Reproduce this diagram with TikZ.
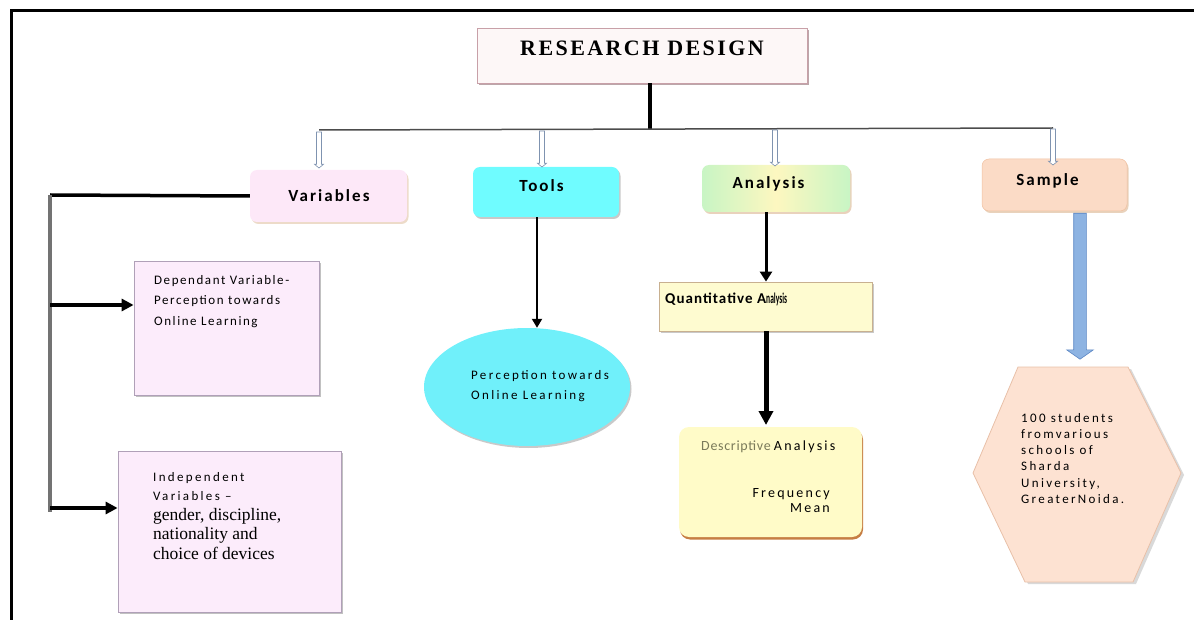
\documentclass[tikz,border=0pt]{standalone}
\usepackage{fontspec}
\usepackage{graphicx}
\setmainfont{Liberation Serif}
\setsansfont{Carlito}
\usetikzlibrary{shapes.arrows,shapes.geometric,shadows,arrows.meta}
\newcommand\lsp[1]{\addfontfeatures{LetterSpace=#1}}
\definecolor{rdfill}{HTML}{FDF7F7}
\definecolor{rdline}{HTML}{C8A0A8}
\definecolor{varfill}{HTML}{FDE8F8}
\definecolor{toolfill}{HTML}{6FFCFF}
\definecolor{samfill}{HTML}{FBDBC6}
\definecolor{samline}{HTML}{F0C0A0}
\definecolor{boxfill}{HTML}{FCECFB}
\definecolor{boxline}{HTML}{B0A0B8}
\definecolor{ellfill}{HTML}{70F0FA}
\definecolor{qfill}{HTML}{FEFBD0}
\definecolor{qline}{HTML}{C8B090}
\definecolor{dfill}{HTML}{FFFBC8}
\definecolor{dshadow}{HTML}{C07030}
\definecolor{hexfill}{HTML}{FDE2D2}
\definecolor{hexline}{HTML}{E8C0A8}
\definecolor{hollowline}{HTML}{7F93B0}
\definecolor{bluefill}{HTML}{8DB3E2}
\definecolor{blueline}{HTML}{5B86C4}
\definecolor{descgray}{HTML}{7A7A5A}
\definecolor{greenl}{HTML}{C8F5C4}
\definecolor{yellowm}{HTML}{FDF7C0}
\tikzset{
  x=1pt,y=-1pt,
  sh/.style={drop shadow={shadow xshift=1.5pt,shadow yshift=-2pt,fill=#1,opacity=0.7}},
  topbox/.style={rounded corners=7pt,draw=none},
  toplab/.style={anchor=base,inner sep=0pt,font=\sffamily\bfseries\fontsize{17}{20}\selectfont\lsp{12}},
  hollow/.style={single arrow,draw=hollowline,fill=white,line width=0.6pt,rotate=-90,
    inner sep=2.2pt,single arrow head extend=2pt,single arrow tip angle=100,minimum height=36pt},
  blkarr/.style={-{Triangle[length=9pt,width=10pt]},line width=2pt,black},
  stxt/.style={align=left,inner sep=0pt,font=\sffamily\fontsize{13}{20.5}\selectfont\lsp{18}},
}
\begin{document}
\begin{tikzpicture}
\useasboundingbox (0,0) rectangle (1194,620);
% frame
\draw[line width=3pt] (11,620) -- (11,11) -- (1194,11);
% title
\node[draw=rdline,fill=rdfill,line width=0.8pt,minimum width=330pt,minimum height=55pt,
  sh=rdline!80!black] (rd) at (642,55.5) {};
\node[anchor=base,inner sep=0pt,font=\bfseries\fontsize{22}{24}\selectfont\lsp{11}] (rdt) at (642,56) {RESEARCH DESIGN};
\coordinate (hj) at (650,129);
\coordinate (hl) at (319,130);
\coordinate (hr) at (1053,128);
\draw[line width=3.5pt] (rd.south -| hj) -- (hj);
\draw[line width=1.5pt,black!70] (hl) -- (hr);
% top boxes
\node[topbox,fill=varfill,minimum width=157pt,minimum height=52pt,sh=brown!40] (var) at (328.5,196) {};
\node[topbox,fill=toolfill,minimum width=146pt,minimum height=50pt,sh=gray!60] (tool) at (546,192) {};
\node[topbox,left color=greenl,right color=greenl,middle color=yellowm,minimum width=148pt,minimum height=47pt,sh=brown!50] (ana) at (776,188.5) {};
\node[topbox,fill=samfill,draw=samline,line width=0.5pt,minimum width=145pt,minimum height=52pt,sh=brown!50] (sam) at (1054.5,185) {};
\node[toplab] (varl) at (329,201.5) {Variables};
\node[toplab] (tooll) at (541.5,191.5) {Tools};
\node[toplab] (anal) at (768.5,188.5) {Analysis};
\node[toplab] (saml) at (1047.5,185.5) {Sample};
% hollow arrows
\node[hollow] (h1) at (319,149) {};
\node[hollow] (h2) at (542,148) {};
\node[hollow] (h3) at (775,147) {};
\node[hollow] (h4) at (1053,146) {};
% variables branch
\coordinate (vt) at (50,195);
\coordinate (vb) at (50,512);
\coordinate (a1) at (50,305);
\coordinate (a2) at (50,508);
\draw[line width=3.5pt] (var.west) -- (vt);
\draw[line width=4pt,black!55] (vt) -- (vb);
\node[draw=boxline,fill=boxfill,line width=0.8pt,minimum width=185pt,minimum height=134pt,sh=gray!70] (dep) at (226.5,328) {};
\node[draw=boxline,fill=boxfill,line width=0.8pt,minimum width=223pt,minimum height=161pt,sh=gray!70] (ind) at (229.5,531.5) {};
\draw[-{Triangle[length=12pt,width=12pt]},line width=4pt] (a1) -- (dep.west |- a1);
\draw[-{Triangle[length=12pt,width=12pt]},line width=4pt] (a2) -- (ind.west |- a2);
\node[stxt,anchor=north west,font=\sffamily\fontsize{13}{20.5}\selectfont\lsp{12}] (dept) at (154,275)
  {Dependant Variable-\\Perception towards\\Online Learning};
\node[anchor=north west,align=left,inner sep=0pt,font=\fontsize{13}{19.5}\selectfont] (indt) at (153,472)
  {{\sffamily\lsp{18}Independent}\\
   {\sffamily\lsp{18}Variables --}\\
   {\rmfamily\fontsize{17.5}{19.5}\selectfont gender, discipline,}\\
   {\rmfamily\fontsize{17.5}{19.5}\selectfont nationality and}\\
   {\rmfamily\fontsize{17.5}{19.5}\selectfont choice of devices}};
% tools branch
\node[ellipse,fill=ellfill,minimum width=206pt,minimum height=118pt,sh=gray!60] (ell) at (527,387) {};
\draw[blkarr] ([xshift=-9pt]tool.south) -- ([xshift=-9pt]tool.south |- ell.north);
\node[stxt,anchor=north west] (ellt) at (471,370)
  {Perception towards\\Online Learning};
% analysis branch
\node[draw=qline,fill=qfill,line width=0.8pt,minimum width=213pt,minimum height=49pt,sh=gray!60] (quant) at (765.5,306.5) {};
\node[anchor=base west,inner sep=0pt,font=\sffamily\bfseries\fontsize{15}{17}\selectfont] (qt) at (665,304)
  {{\lsp{7}Quantitative A}\makebox[30pt][l]{\scalebox{0.5}[1]{nalysis}}};
\draw[-{Triangle[length=10pt,width=12pt]},line width=3pt] ([xshift=-10pt]ana.south) -- ([xshift=-10pt]ana.south |- quant.north);
\node[rounded corners=10pt,fill=dfill,minimum width=183pt,minimum height=110pt,
  drop shadow={shadow xshift=1pt,shadow yshift=-2.5pt,fill=dshadow,opacity=0.9}] (desc) at (770.5,482) {};
\draw[-{Triangle[length=14pt,width=14pt]},line width=5pt] (quant.south -| 766,0) -- (766,425);
\node[anchor=base west,inner sep=0pt,font=\sffamily\fontsize{14}{16}\selectfont] (dt) at (701,450.5)
  {\textcolor{descgray}{\lsp{5}Descriptive} {\lsp{16}Analysis}};
\node[anchor=north east,inner sep=0pt,align=right,font=\sffamily\fontsize{14}{15.5}\selectfont\lsp{16}] (fm) at (830,488)
  {Frequency\\Mean};
% sample branch
\node[single arrow,fill=bluefill,draw=blueline,line width=0.6pt,rotate=-90,inner sep=6pt,
  single arrow head extend=7pt,single arrow tip angle=110,minimum height=146pt] (bl) at (1080,284) {};
\fill[black!25,opacity=0.6] (1021,369) -- (1131,369) -- (1184,475) -- (1136,584) -- (1028,584) -- (976,475) -- cycle;
\draw[fill=hexfill,draw=hexline,line width=0.8pt] (1018,367) -- (1128,367) -- (1181,473) -- (1133,582) -- (1025,582) -- (973,473) -- cycle;
\node[stxt,anchor=north west,font=\sffamily\fontsize{13}{16.2}\selectfont\lsp{18}] (hext) at (1021,413)
  {100 students\\fromvarious\\schools of\\Sharda\\University,\\GreaterNoida.};
\end{tikzpicture}
\end{document}
